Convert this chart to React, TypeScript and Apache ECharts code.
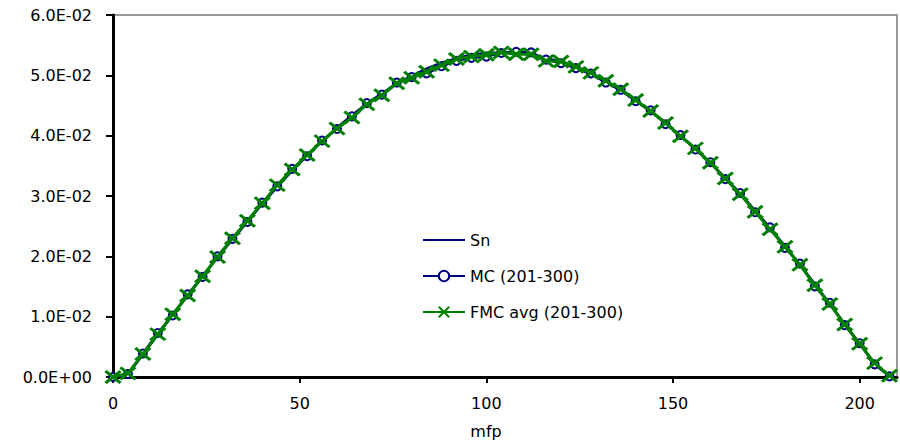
import React, { useEffect, useRef } from "react";
import * as echarts from "echarts";

const mfp = [0, 4, 8, 12, 16, 20, 24, 28, 32, 36, 40, 44, 48, 52, 56, 60, 64, 68, 72, 76, 80, 84, 88, 92, 96, 100, 104, 108, 112, 116, 120, 124, 128, 132, 136, 140, 144, 148, 152, 156, 160, 164, 168, 172, 176, 180, 184, 188, 192, 196, 200, 204, 208];

const sn = [0, 0.0005, 0.0037, 0.0070, 0.0103, 0.0135, 0.0167, 0.0198, 0.0228, 0.0258, 0.0287, 0.0315, 0.0342, 0.0367, 0.0391, 0.0413, 0.0434, 0.0453, 0.0470, 0.0486, 0.0499, 0.0511, 0.0521, 0.0528, 0.0534, 0.0537, 0.0538, 0.0537, 0.0534, 0.0529, 0.0522, 0.0513, 0.0502, 0.0489, 0.0475, 0.0458, 0.0440, 0.0421, 0.0400, 0.0378, 0.0355, 0.0330, 0.0304, 0.0276, 0.0247, 0.0217, 0.0186, 0.0154, 0.0121, 0.0088, 0.0055, 0.0022, 0.0001];

const mc = [0, 0.0005, 0.0039, 0.0073, 0.0102, 0.0137, 0.0166, 0.0200, 0.0229, 0.0257, 0.0289, 0.0316, 0.0345, 0.0366, 0.0392, 0.0411, 0.0432, 0.0454, 0.0468, 0.0488, 0.0497, 0.0503, 0.0515, 0.0524, 0.0529, 0.0531, 0.0537, 0.0539, 0.0538, 0.0526, 0.0520, 0.0512, 0.0503, 0.0488, 0.0476, 0.0457, 0.0442, 0.0419, 0.0401, 0.0377, 0.0356, 0.0328, 0.0305, 0.0273, 0.0248, 0.0214, 0.0188, 0.0150, 0.0123, 0.0086, 0.0056, 0.0021, 0.0001];

const fmc = [0, 0.0006, 0.0038, 0.0071, 0.0104, 0.0135, 0.0167, 0.0199, 0.0230, 0.0259, 0.0288, 0.0318, 0.0344, 0.0368, 0.0391, 0.0412, 0.0430, 0.0452, 0.0467, 0.0487, 0.0496, 0.0506, 0.0517, 0.0527, 0.0531, 0.0534, 0.0538, 0.0535, 0.0535, 0.0524, 0.0523, 0.0514, 0.0504, 0.0491, 0.0477, 0.0459, 0.0441, 0.0421, 0.0399, 0.0379, 0.0355, 0.0329, 0.0303, 0.0274, 0.0245, 0.0216, 0.0186, 0.0152, 0.0121, 0.0087, 0.0055, 0.0023, 0.0002];

const xTicks = [0, 50, 100, 150, 200];

const FONT = "DejaVu Sans";

function sci(v: number): string {
  if (Math.abs(v) < 1e-12) return "0.0E+00";
  let e = Math.floor(Math.log10(Math.abs(v)) + 1e-9);
  let m = v / Math.pow(10, e);
  if (Math.abs(m) >= 9.95) {
    m /= 10;
    e += 1;
  }
  const sign = e < 0 ? "-" : "+";
  return m.toFixed(1) + "E" + sign + String(Math.abs(e)).padStart(2, "0");
}

const zip = (ys: number[]) => mfp.map((x, i) => [x, ys[i]]);

export default function App() {
  const ref = useRef<HTMLDivElement>(null);
  useEffect(() => {
    if (!ref.current) return;
    const chart = echarts.init(ref.current, null, { renderer: "svg" });
    chart.setOption({
      animation: false,
      backgroundColor: "#ffffff",
      textStyle: { fontFamily: FONT },
      grid: {
        left: 113,
        right: 3,
        top: 15,
        bottom: 67,
        show: true,
        borderColor: "#999999",
        borderWidth: 2,
        backgroundColor: "transparent",
      },
      legend: {
        orient: "vertical",
        left: 417,
        top: 227,
        itemWidth: 42,
        itemHeight: 13,
        itemGap: 20,
        textStyle: { fontFamily: FONT, fontSize: 16, color: "#000" },
        data: [
          { name: "Sn", itemStyle: { opacity: 0 } },
          { name: "MC (201-300)" },
          { name: "FMC avg (201-300)" },
        ],
      },
      xAxis: {
        type: "value",
        min: 0,
        max: 210,
        interval: 50,
        name: "mfp",
        nameLocation: "middle",
        nameGap: 46,
        nameTextStyle: { fontFamily: FONT, fontSize: 16, color: "#000", padding: [0, 38, 0, 0] },
        axisLine: { show: true, onZero: false, lineStyle: { color: "#000", width: 3 } },
        axisTick: { show: true, length: 6, customValues: xTicks, lineStyle: { color: "#000", width: 2 } },
        axisLabel: { customValues: xTicks, margin: 18, fontFamily: FONT, fontSize: 16, color: "#000" },
        splitLine: { show: false },
      },
      yAxis: {
        type: "value",
        min: 0,
        max: 0.06,
        interval: 0.01,
        axisLine: { show: true, lineStyle: { color: "#000", width: 3 } },
        axisTick: { show: true, length: 7, lineStyle: { color: "#000", width: 2 } },
        axisLabel: { margin: 21, fontFamily: FONT, fontSize: 16, color: "#000", formatter: (v: number) => sci(v) },
        splitLine: { show: false },
      },
      series: [
        {
          name: "Sn",
          type: "line",
          data: zip(sn),
          showSymbol: false,
          symbol: "none",
          lineStyle: { color: "#000080", width: 2.5 },
          itemStyle: { color: "#000080" },
          z: 2,
        },
        {
          name: "MC (201-300)",
          type: "line",
          data: zip(mc),
          symbol: "emptyCircle",
          symbolSize: 8,
          lineStyle: { color: "#000080", width: 2.5 },
          itemStyle: { color: "#000080", borderColor: "#2a2a99", borderWidth: 1 },
          z: 3,
        },
        {
          name: "FMC avg (201-300)",
          type: "line",
          data: zip(fmc),
          symbol: "path://M0,0 L10,10 M10,0 L0,10",
          symbolSize: [15, 12],
          lineStyle: { color: "#008000", width: 3 },
          itemStyle: { color: "#008000", borderColor: "#008000", borderWidth: 3 },
          z: 4,
        },
      ],
    });
    return () => chart.dispose();
  }, []);
  return <div ref={ref} style={{ width: 900, height: 444, position: "absolute", left: 0, top: 0 }} />;
}
